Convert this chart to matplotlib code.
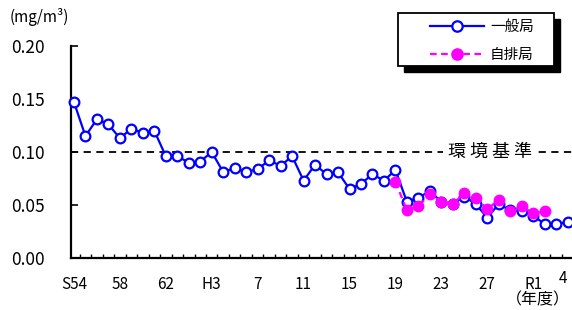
import numpy as np
import matplotlib
matplotlib.use("Agg")
import matplotlib.pyplot as plt
from matplotlib.patches import Rectangle
from matplotlib.lines import Line2D

plt.rcParams['font.family'] = ['Noto Sans CJK JP', 'DejaVu Sans']

# fiscal years S54 (1979) .. R4 (2022)
years_general = np.arange(1979, 2023)
general = [0.147, 0.115, 0.131, 0.126, 0.113, 0.122, 0.118, 0.120, 0.096, 0.096,
           0.090, 0.091, 0.100, 0.081, 0.085, 0.081, 0.084, 0.092, 0.087, 0.096,
           0.073, 0.088, 0.079, 0.081, 0.065, 0.070, 0.079, 0.073, 0.083, 0.053,
           0.057, 0.063, 0.053, 0.051, 0.058, 0.051, 0.038, 0.051, 0.045, 0.044,
           0.040, 0.032, 0.032, 0.034]

years_roadside = np.arange(2007, 2021)
roadside = [0.072, 0.045, 0.049, 0.060, 0.053, 0.051, 0.061, 0.057, 0.046, 0.055,
            0.044, 0.049, 0.042, 0.044]

tick_years = [1979, 1983, 1987, 1991, 1995, 1999, 2003, 2007, 2011, 2015, 2019]
tick_labels = ["S54", "58", "62", "H3", "7", "11", "15", "19", "23", "27", "R1"]
standard = 0.10

W, H = 572, 310
fig = plt.figure(figsize=(W / 100, H / 100), dpi=100)
ax = fig.add_axes([71 / W, 52 / H, (W - 71) / W, 212 / H])


def px(x, y):
    return (x / W, 1 - y / H)


ax.axhline(standard, color='black', lw=1.3, ls=(0, (4, 3)), zorder=1)
ax.text(2015.2, standard, "環 境 基 準", fontsize=13, ha='center', va='center',
        bbox=dict(facecolor='white', edgecolor='none', pad=3), zorder=2)

ax.plot(years_general, general, color='#0000FF', lw=1.6, marker='o', ms=7,
        mfc='white', mec='#0000FF', mew=1.6, zorder=3, clip_on=False)
ax.plot(years_roadside, roadside, color='#FF00FF', lw=1.6, ls=(0, (3, 2)),
        marker='o', ms=7.5, mfc='#FF00FF', mec='#FF00FF', zorder=4, clip_on=False)

ax.set_xlim(1978.74, 2022.38)
ax.set_ylim(0, 0.20)
ax.set_yticks(np.linspace(0, 0.20, 5))
ax.set_yticklabels(["%.2f" % v for v in np.linspace(0, 0.20, 5)], fontsize=12.5)
ax.set_xticks(tick_years)
ax.set_xticklabels(tick_labels, fontsize=11)
ax.set_xticks(np.arange(1979.5, 2022.5, 1), minor=True)
ax.tick_params(axis='x', which='major', length=0, pad=13)
ax.tick_params(axis='x', which='minor', direction='in', length=3, width=1)
ax.tick_params(axis='y', direction='in', length=5, width=1.2, pad=19)
for s in ['top', 'right']:
    ax.spines[s].set_visible(False)
for s in ['left', 'bottom']:
    ax.spines[s].set_linewidth(1.6)

ax.text(2021.6, -0.019, "4", fontsize=11, ha='center', va='center', clip_on=False)
fig.text(*px(538, 300), "（年度）", fontsize=11.5, ha='center', va='center')
fig.text(*px(10, 17), "(mg/m³)", fontsize=11, ha='left', va='center')

# legend box with black shadow
x0, y0, x1, y1 = 398, 13, 554, 66
bl = px(x0, y1)
fig.patches.append(Rectangle((bl[0] + 6 / W, bl[1] - 6 / H), (x1 - x0) / W, (y1 - y0) / H,
                             transform=fig.transFigure, facecolor='black', edgecolor='black',
                             zorder=5))
fig.patches.append(Rectangle(bl, (x1 - x0) / W, (y1 - y0) / H, transform=fig.transFigure,
                             facecolor='white', edgecolor='black', lw=1.3, zorder=6))
for yy, col, ls, mfc, lab in [(26, '#0000FF', '-', 'white', "一般局"),
                              (54, '#FF00FF', (0, (3, 2)), '#FF00FF', "自排局")]:
    a, b = px(430, yy)
    c, _ = px(484, yy)
    fig.add_artist(Line2D([a, c], [b, b], transform=fig.transFigure, color=col, lw=1.6,
                          ls=ls, zorder=7))
    m, _ = px(457, yy)
    fig.add_artist(Line2D([m], [b], transform=fig.transFigure, marker='o', ms=7.5,
                          mfc=mfc, mec=col, mew=1.6, zorder=8))
    fig.text(*px(490, yy + 1), lab, fontsize=10.5, ha='left', va='center', zorder=9)

fig.savefig("out.png", dpi=100)
